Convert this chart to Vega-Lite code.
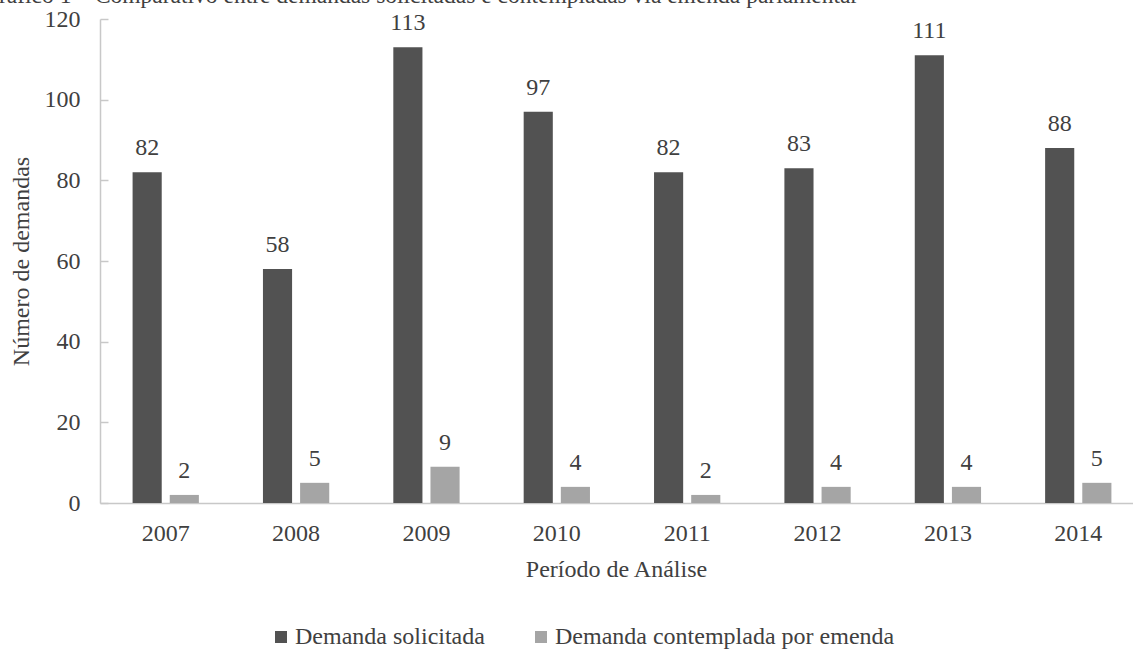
{
  "$schema": "https://vega.github.io/schema/vega-lite/v6.json",
  "autosize": {"type": "none"},
  "padding": {"left": 100, "top": 19, "right": 0, "bottom": 146},
  "width": 1033,
  "height": 484,
  "background": "white",
  "title": {
    "text": "Gráfico 1 – Comparativo entre demandas solicitadas e contempladas via emenda parlamentar",
    "anchor": "start",
    "frame": "group",
    "dx": -118,
    "dy": 19,
    "offset": 0,
    "baseline": "alphabetic",
    "font": "Liberation Serif, DejaVu Serif, serif",
    "fontSize": 23.5,
    "fontWeight": "normal",
    "color": "#404040"
  },
  "config": {
    "view": {"stroke": null},
    "font": "Liberation Serif, DejaVu Serif, serif"
  },
  "data": {
    "values": [
      {"ano": "2007", "serie": "Demanda solicitada", "valor": 82},
      {"ano": "2007", "serie": "Demanda contemplada por emenda", "valor": 2},
      {"ano": "2008", "serie": "Demanda solicitada", "valor": 58},
      {"ano": "2008", "serie": "Demanda contemplada por emenda", "valor": 5},
      {"ano": "2009", "serie": "Demanda solicitada", "valor": 113},
      {"ano": "2009", "serie": "Demanda contemplada por emenda", "valor": 9},
      {"ano": "2010", "serie": "Demanda solicitada", "valor": 97},
      {"ano": "2010", "serie": "Demanda contemplada por emenda", "valor": 4},
      {"ano": "2011", "serie": "Demanda solicitada", "valor": 82},
      {"ano": "2011", "serie": "Demanda contemplada por emenda", "valor": 2},
      {"ano": "2012", "serie": "Demanda solicitada", "valor": 83},
      {"ano": "2012", "serie": "Demanda contemplada por emenda", "valor": 4},
      {"ano": "2013", "serie": "Demanda solicitada", "valor": 111},
      {"ano": "2013", "serie": "Demanda contemplada por emenda", "valor": 4},
      {"ano": "2014", "serie": "Demanda solicitada", "valor": 88},
      {"ano": "2014", "serie": "Demanda contemplada por emenda", "valor": 5}
    ]
  },
  "encoding": {
    "x": {
      "field": "ano",
      "type": "nominal",
      "scale": {"range": [0, 1044], "paddingInner": 0.4915, "paddingOuter": 0.25},
      "axis": {
        "title": "Período de Análise",
        "titleFont": "Liberation Serif, DejaVu Serif, serif",
        "titleFontSize": 24,
        "titleFontWeight": "normal",
        "titleColor": "#404040",
        "titleBaseline": "alphabetic",
        "titleY": 73,
        "titleX": 516,
        "labelFont": "Liberation Serif, DejaVu Serif, serif",
        "labelFontSize": 24,
        "labelColor": "#404040",
        "labelAngle": 0,
        "labelPadding": 18,
        "ticks": false,
        "domainColor": "#c8c8c8",
        "domainWidth": 1.5
      }
    },
    "xOffset": {
      "field": "serie",
      "type": "nominal",
      "sort": ["Demanda solicitada", "Demanda contemplada por emenda"],
      "scale": {"paddingInner": 0.216, "paddingOuter": 0}
    },
    "y": {
      "field": "valor",
      "type": "quantitative",
      "scale": {"domain": [0, 120], "nice": false},
      "axis": {
        "title": "Número de demandas",
        "titleFont": "Liberation Serif, DejaVu Serif, serif",
        "titleFontSize": 24,
        "titleFontWeight": "normal",
        "titleColor": "#404040",
        "titleAngle": -90,
        "titleBaseline": "alphabetic",
        "titleAlign": "center",
        "titleX": -72,
        "titleY": 242,
        "values": [0, 20, 40, 60, 80, 100, 120],
        "grid": false,
        "labelFont": "Liberation Serif, DejaVu Serif, serif",
        "labelFontSize": 24,
        "labelColor": "#404040",
        "labelPadding": 28,
        "tickSize": -8,
        "tickColor": "#c8c8c8",
        "tickWidth": 1.5,
        "domainColor": "#c8c8c8",
        "domainWidth": 1.5
      }
    }
  },
  "layer": [
    {
      "mark": {"type": "bar"},
      "encoding": {
        "color": {
          "field": "serie",
          "type": "nominal",
          "scale": {
            "domain": ["Demanda solicitada", "Demanda contemplada por emenda"],
            "range": ["#525252", "#a5a5a5"]
          },
          "legend": {
            "title": null,
            "orient": "none",
            "direction": "horizontal",
            "legendX": 169,
            "legendY": 606,
            "symbolType": "square",
            "symbolSize": 144,
            "symbolStrokeWidth": 0,
            "labelFont": "Liberation Serif, DejaVu Serif, serif",
            "labelFontSize": 24,
            "labelColor": "#404040",
            "labelOffset": 2,
            "columnPadding": 44,
            "labelLimit": 500
          }
        }
      }
    },
    {
      "mark": {
        "type": "text",
        "baseline": "alphabetic",
        "dy": -17,
        "fontSize": 24,
        "font": "Liberation Serif, DejaVu Serif, serif",
        "color": "#404040"
      },
      "encoding": {
        "text": {"field": "valor", "type": "quantitative"}
      }
    }
  ]
}
